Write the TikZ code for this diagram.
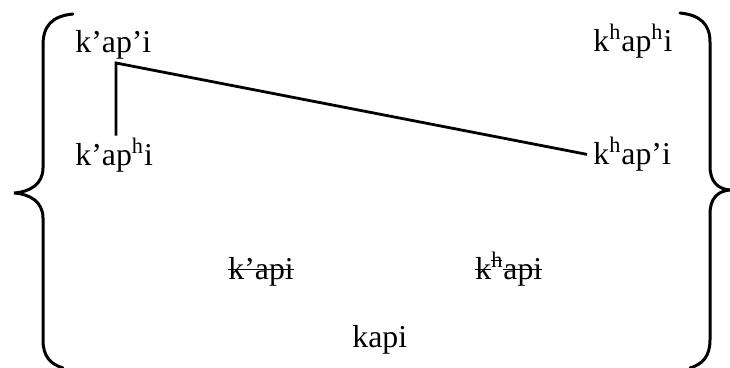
\documentclass[tikz,border=0pt]{standalone}
\usepackage{fontspec}
\setmainfont{Liberation Serif}
\newcommand\strk[1]{\setbox0\hbox{#1}\rlap{\rule[0.3em]{\wd0}{0.04em}}\box0}

\begin{document}
\begin{tikzpicture}[
					x=0.5pt, y=-0.5pt,
					form/.style={anchor=base west, inner sep=1pt, font=\fontsize{15.9}{19}\selectfont},
					brace/.style={line width=1.5pt, line cap=round},
					link/.style={line width=1.4pt}
				]
				% Marco de la figura
				\useasboundingbox (0,0) rectangle (730,368);

				% --- Formas ---
				\node[form] (kpi)   at (73,53)  {k'ap'i};
				\node[form] (kphi)  at (73,166) {k'ap\textsuperscript{h}i};
				\node[form] (khphi) at (591,52) {k\textsuperscript{h}ap\textsuperscript{h}i};
				\node[form] (khpi)  at (591,165) {k\textsuperscript{h}ap'i};
				\node[form] (kapiA) at (226,280) {\strk{k'api}};
				\node[form] (kapiB) at (473,280) {\strk{k}\textsuperscript{\strk{h}}\strk{api}};
				\node[form] (kapi)  at (350,348) {kapi};

				% --- Enlace ---
				\coordinate (corner) at (116,63);
				\draw[link] (corner |- kphi.north) -- (corner) -- ([xshift=-2pt]khpi.west);

				% --- Llave izquierda ---
				\draw[brace] (73,14) .. controls (52,16) and (43,26) .. (43,45) -- (43,168)
					.. controls (43,184) and (30,192) .. (14,193)
					.. controls (30,194) and (43,202) .. (43,218) -- (43,340)
					.. controls (43,356) and (50,364) .. (63,368);

				% --- Llave derecha ---
				\draw[brace] (680,13) .. controls (700,15) and (710,24) .. (710,42) -- (710,166)
					.. controls (710,182) and (718,189) .. (730,190)
					.. controls (718,191) and (710,198) .. (710,214) -- (710,340)
					.. controls (710,356) and (703,364) .. (690,368);

			\end{tikzpicture}
\end{document}
